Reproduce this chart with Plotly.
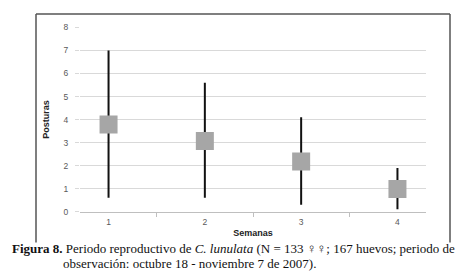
import plotly.graph_objects as go

semanas = ["1", "2", "3", "4"]
high = [7.0, 5.6, 4.1, 1.9]
low = [0.6, 0.6, 0.3, 0.1]
close = [3.78, 3.07, 2.18, 0.98]

W, H = 474, 280
def px(x): return x / W
def py(y): return 1 - y / H

fig = go.Figure()
fig.add_trace(go.Scatter(
    x=semanas, y=close, mode="markers",
    marker=dict(size=1, opacity=0),
    error_y=dict(type="data", symmetric=False,
                 array=[h - c for h, c in zip(high, close)],
                 arrayminus=[c - l for c, l in zip(close, low)],
                 color="#111111", thickness=2, width=0),
    showlegend=False, hoverinfo="skip"))
fig.add_trace(go.Scatter(
    x=semanas, y=close, mode="markers",
    marker=dict(symbol="square", size=18, color="#a6a6a6", line=dict(width=0)),
    showlegend=False))

axfont = dict(family="Arial, Liberation Sans, sans-serif", size=8.5, color="#595959")
fig.update_layout(
    width=W, height=H,
    margin=dict(l=0, r=0, t=0, b=0),
    paper_bgcolor="white", plot_bgcolor="white",
    xaxis=dict(type="category", domain=[px(72), px(418)],
               tickson="boundaries", ticks="outside", ticklen=4, tickcolor="#bfbfbf",
               showgrid=False, showline=True, linecolor="#bfbfbf", linewidth=1,
               tickfont=axfont, ticklabelstandoff=2,
               title=dict(text="<b>Semanas</b>", standoff=3,
                          font=dict(family="Arial, Liberation Sans, sans-serif", size=9, color="#222"))),
    yaxis=dict(range=[0, 8], dtick=1, domain=[py(206), py(15)],
               showgrid=True, gridcolor="#d9d9d9", gridwidth=1, zeroline=False,
               ticks="outside", ticklen=4, tickcolor="#d9d9d9",
               showline=False, tickfont=axfont, ticklabelstandoff=5,
               title=dict(text="<b>Posturas</b>", standoff=12,
                          font=dict(family="Arial, Liberation Sans, sans-serif", size=9, color="#222"))),
)

# chart frame
bc = "#555555"
for x0, y0, x1, y1 in [(28, 1, 442, 1), (28, 1, 28, 238), (442, 1, 442, 238)]:
    fig.add_shape(type="line", xref="paper", yref="paper",
                  x0=px(x0), y0=py(y0), x1=px(x1), y1=py(y1),
                  line=dict(color=bc, width=1.5))

capfont = dict(family="Liberation Serif, Times New Roman, serif", size=13, color="#111")
fig.add_annotation(xref="paper", yref="paper", x=px(2), y=py(244), xanchor="left", yanchor="middle",
                   showarrow=False, font=capfont,
                   text="<b>Figura 8.</b> Periodo reproductivo de <i>C. lunulata</i> (N = 133 ♀♀; 167 huevos; periodo de")
fig.add_annotation(xref="paper", yref="paper", x=px(53), y=py(260), xanchor="left", yanchor="middle",
                   showarrow=False, font=capfont,
                   text="observación: octubre 18 - noviembre 7 de 2007).")

fig.write_html("out.html")
